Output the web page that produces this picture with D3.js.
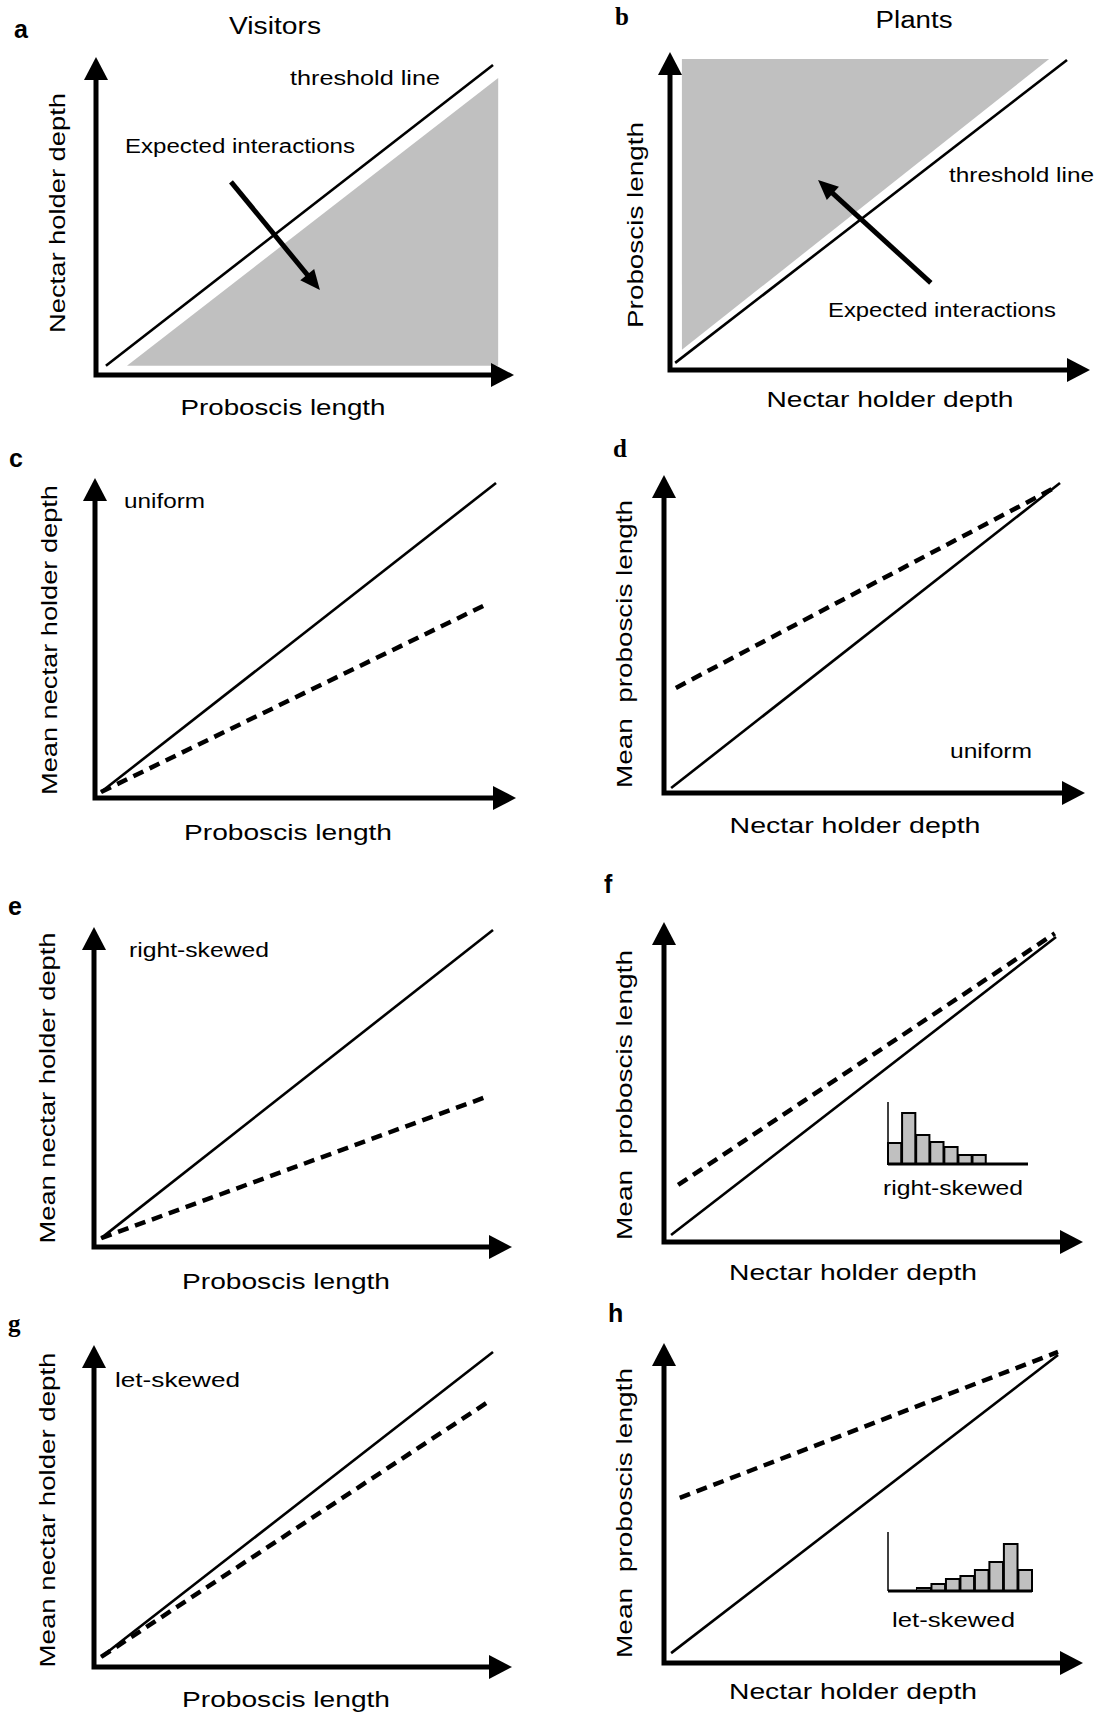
<!DOCTYPE html>
<html>
<head>
<meta charset="utf-8">
<script src="https://cdn.jsdelivr.net/npm/d3@7"></script>
<style>
  body { margin: 0; background: #fff; }
  text { font-family: "Liberation Sans", Arial, sans-serif; fill: #000; }
</style>
</head>
<body>
<svg id="fig" width="1103" height="1715"></svg>
<script>
// ---- Data (all line / area values in relative units, 0..1 on each axis) ----
var panelLetters = ["a", "b", "c", "d", "e", "f", "g", "h"];
var columnTitles = ["Visitors", "Plants"];
var xLabels = ["Proboscis length", "Nectar holder depth", "Proboscis length", "Nectar holder depth",
               "Proboscis length", "Nectar holder depth", "Proboscis length", "Nectar holder depth"];
var yLabels = ["Nectar holder depth", "Proboscis length", "Mean nectar holder depth", "Mean  proboscis length",
               "Mean nectar holder depth", "Mean  proboscis length", "Mean nectar holder depth", "Mean  proboscis length"];
var distLabels = [null, null, "uniform", "uniform", "right-skewed", "right-skewed", "let-skewed", "let-skewed"];

// threshold line (solid) per panel
var solidLines = [
  [[0.025, 0.03], [1, 1]],
  [[0.013, 0.023], [1, 1]],
  [[0.015, 0.019], [1, 1]],
  [[0.018, 0.016], [1, 1]],
  [[0.018, 0.028], [1, 1]],
  [[0.018, 0.023], [1, 1]],
  [[0.018, 0.032], [1, 1]],
  [[0.018, 0.032], [1, 1]]
];
// mean trait line (dashed) per panel
var dashedLines = [
  null,
  null,
  [[0.015, 0.019], [0.983, 0.619]],
  [[0.03, 0.339], [0.99, 0.987]],
  [[0.018, 0.028], [0.982, 0.473]],
  [[0.036, 0.187], [0.997, 1.012]],
  [[0.018, 0.032], [0.987, 0.841]],
  [[0.04, 0.536], [1, 1.01]]
];
// expected interaction areas (panels a, b)
var shadedAreas = [
  [[0.078, 0.03], [1.013, 0.03], [1.013, 0.958]],
  [[0.03, 1.003], [0.955, 1.003], [0.03, 0.065]]
];
var pointerArrows = [
  [[0.34, 0.623], [0.564, 0.274]],
  [[0.657, 0.281], [0.373, 0.613]]
];
var pointerText = ["Expected interactions", "Expected interactions"];
var thresholdText = ["threshold line", "threshold line"];

// inset histograms (relative frequency, 10 bins)
var histRightSkewed = [21, 51, 29, 22, 17, 9, 9, 0, 0, 0];
var histLeftSkewed  = [0, 0, 3, 7, 12, 15, 21, 29, 47, 21];

// ---- Layout (pixels) ----
var layout = [
  {ox: 96,  oy: 375,  tipX: 514,  tipY: 57,   x1: 493,  y1: 65,
   letter: [14, 38],   xl: [283, 415, 205],  yl: [65, 213, 240]},
  {ox: 670, oy: 370,  tipX: 1090, tipY: 52,   x1: 1067, y1: 60,
   letter: [615, 25],  xl: [890, 407, 247],  yl: [643, 225, 206]},
  {ox: 95,  oy: 798,  tipX: 516,  tipY: 478,  x1: 496,  y1: 483,
   letter: [9, 467],   xl: [288, 840, 208],  yl: [57, 640, 310],  dl: [124, 508, 81]},
  {ox: 664, oy: 793,  tipX: 1085, tipY: 475,  x1: 1060, y1: 483,
   letter: [613, 457], xl: [855, 833, 251],  yl: [632, 644, 288],  dl: [950, 758, 82]},
  {ox: 94,  oy: 1247, tipX: 512,  tipY: 927,  x1: 493,  y1: 930,
   letter: [8, 915],   xl: [286, 1289, 208], yl: [55, 1088, 311],  dl: [129, 957, 140]},
  {ox: 664, oy: 1242, tipX: 1083, tipY: 922,  x1: 1056, y1: 937,
   letter: [604, 893], xl: [853, 1280, 248], yl: [632, 1095, 290],  dl: [883, 1195, 140]},
  {ox: 94,  oy: 1667, tipX: 512,  tipY: 1345, x1: 493,  y1: 1352,
   letter: [8, 1332],  xl: [286, 1707, 208], yl: [55, 1510, 315],  dl: [115, 1387, 125]},
  {ox: 664, oy: 1663, tipX: 1083, tipY: 1343, x1: 1058, y1: 1355,
   letter: [608, 1322], xl: [853, 1699, 248], yl: [632, 1513, 290], dl: [892, 1627, 123]}
];
var serifLetters = ["b", "d", "g"];
var titlePos = [[275, 34, 92], [914, 28, 77]];
var thresholdPos = [[290, 85, 150], [949, 182, 145]];
var pointerTextPos = [[125, 153, 230], [828, 317, 228]];
var histLayout = [
  {values: histRightSkewed, hx: 888, hb: 1164, top: 1102, w: 140},
  {values: histLeftSkewed,  hx: 888, hb: 1591, top: 1532, w: 144}
];

var grey = "#c0c0c0";
var svg = d3.select("#fig");

// column titles
svg.selectAll("text.title")
   .data(columnTitles)
   .enter()
   .append("text")
   .attr("class", "title")
   .attr("x", function(d, i) { return titlePos[i][0]; })
   .attr("y", function(d, i) { return titlePos[i][1]; })
   .attr("text-anchor", "middle")
   .attr("textLength", function(d, i) { return titlePos[i][2]; })
   .attr("lengthAdjust", "spacingAndGlyphs")
   .style("font-size", "23px")
   .text(function(d) { return d; });

var drawArrowHead = function(g, tx, ty, angle, len, half) {
  // triangle with tip at (tx,ty) pointing along angle
  var bx = tx - len * Math.cos(angle), by = ty - len * Math.sin(angle);
  var px = -Math.sin(angle) * half, py = Math.cos(angle) * half;
  g.append("path")
   .attr("d", "M" + tx + "," + ty + "L" + (bx + px) + "," + (by + py) + "L" + (bx - px) + "," + (by - py) + "Z")
   .style("fill", "#000");
};

layout.forEach(function(L, i) {
  var g = svg.append("g").attr("class", "panel panel-" + panelLetters[i]);
  var x = d3.scaleLinear().domain([0, 1]).range([L.ox, L.x1]);
  var y = d3.scaleLinear().domain([0, 1]).range([L.oy, L.y1]);
  var line = d3.line().x(function(d) { return x(d[0]); }).y(function(d) { return y(d[1]); });

  // shaded expected-interaction area
  if (i < shadedAreas.length) {
    g.append("path")
     .attr("d", line(shadedAreas[i]) + "Z")
     .style("fill", grey);
  }

  // threshold line
  g.append("path")
   .attr("d", line(solidLines[i]))
   .style("fill", "none")
   .style("stroke", "#000")
   .style("stroke-width", 2.6);

  // mean line
  if (dashedLines[i]) {
    g.append("path")
     .attr("d", line(dashedLines[i]))
     .style("fill", "none")
     .style("stroke", "#000")
     .style("stroke-width", 4.5)
     .style("stroke-dasharray", "11,7");
  }

  // axes with arrow heads
  g.append("path")
   .attr("d", "M" + L.ox + "," + (L.tipY + 18) + "L" + L.ox + "," + L.oy + "L" + (L.tipX - 18) + "," + L.oy)
   .style("fill", "none")
   .style("stroke", "#000")
   .style("stroke-width", 5)
   .style("stroke-linecap", "square");
  drawArrowHead(g, L.ox, L.tipY, -Math.PI / 2, 23, 12);
  drawArrowHead(g, L.tipX, L.oy, 0, 23, 12);

  // pointer arrows
  if (i < pointerArrows.length) {
    var p0 = pointerArrows[i][0], p1 = pointerArrows[i][1];
    var sx = x(p0[0]), sy = y(p0[1]), ex = x(p1[0]), ey = y(p1[1]);
    var ang = Math.atan2(ey - sy, ex - sx);
    g.append("line")
     .attr("x1", sx).attr("y1", sy)
     .attr("x2", ex - 14 * Math.cos(ang)).attr("y2", ey - 14 * Math.sin(ang))
     .style("stroke", "#000")
     .style("stroke-width", 5);
    drawArrowHead(g, ex, ey, ang, 20, 9);

    g.append("text")
     .attr("x", pointerTextPos[i][0]).attr("y", pointerTextPos[i][1])
     .attr("textLength", pointerTextPos[i][2])
     .attr("lengthAdjust", "spacingAndGlyphs")
     .style("font-size", "20px")
     .text(pointerText[i]);
    g.append("text")
     .attr("x", thresholdPos[i][0]).attr("y", thresholdPos[i][1])
     .attr("textLength", thresholdPos[i][2])
     .attr("lengthAdjust", "spacingAndGlyphs")
     .style("font-size", "20px")
     .text(thresholdText[i]);
  }

  // panel letter
  g.append("text")
   .attr("x", L.letter[0]).attr("y", L.letter[1])
   .style("font-size", "25px")
   .style("font-weight", "bold")
   .style("font-family", serifLetters.indexOf(panelLetters[i]) >= 0 ? "'Liberation Serif', serif" : null)
   .text(panelLetters[i]);

  // axis titles
  g.append("text")
   .attr("x", L.xl[0]).attr("y", L.xl[1])
   .attr("text-anchor", "middle")
   .attr("textLength", L.xl[2])
   .attr("lengthAdjust", "spacingAndGlyphs")
   .style("font-size", "22px")
   .text(xLabels[i]);
  g.append("text")
   .attr("transform", "translate(" + L.yl[0] + "," + L.yl[1] + ") rotate(-90)")
   .attr("text-anchor", "middle")
   .attr("textLength", L.yl[2])
   .attr("lengthAdjust", "spacingAndGlyphs")
   .style("font-size", "22px")
   .style("white-space", "pre")
   .text(yLabels[i]);

  // distribution label
  if (distLabels[i]) {
    g.append("text")
     .attr("x", L.dl[0]).attr("y", L.dl[1])
     .attr("textLength", L.dl[2])
     .attr("lengthAdjust", "spacingAndGlyphs")
     .style("font-size", "20px")
     .text(distLabels[i]);
  }
});

// inset histograms
histLayout.forEach(function(H) {
  var g = svg.append("g").attr("class", "hist");
  var bins = H.values.map(function(v, k) { return {bin: k, value: v}; })
                     .filter(function(d) { return d.value > 0; });
  var xb = d3.scaleBand().domain(d3.range(H.values.length)).range([H.hx, H.hx + H.w]).paddingInner(0.06);
  var yh = d3.scaleLinear().domain([0, H.hb - H.top]).range([H.hb, H.top]);
  g.selectAll("rect")
   .data(bins)
   .enter()
   .append("rect")
   .attr("x", function(d) { return xb(d.bin); })
   .attr("y", function(d) { return yh(d.value); })
   .attr("width", xb.bandwidth())
   .attr("height", function(d) { return H.hb - yh(d.value); })
   .style("fill", grey)
   .style("stroke", "#000")
   .style("stroke-width", 2);
  g.append("line")
   .attr("x1", H.hx).attr("x2", H.hx)
   .attr("y1", H.hb).attr("y2", H.top)
   .style("stroke", "#000").style("stroke-width", 1.5);
  g.append("line")
   .attr("x1", H.hx).attr("x2", H.hx + H.w)
   .attr("y1", H.hb).attr("y2", H.hb)
   .style("stroke", "#000").style("stroke-width", 3);
});
</script>
</body>
</html>
